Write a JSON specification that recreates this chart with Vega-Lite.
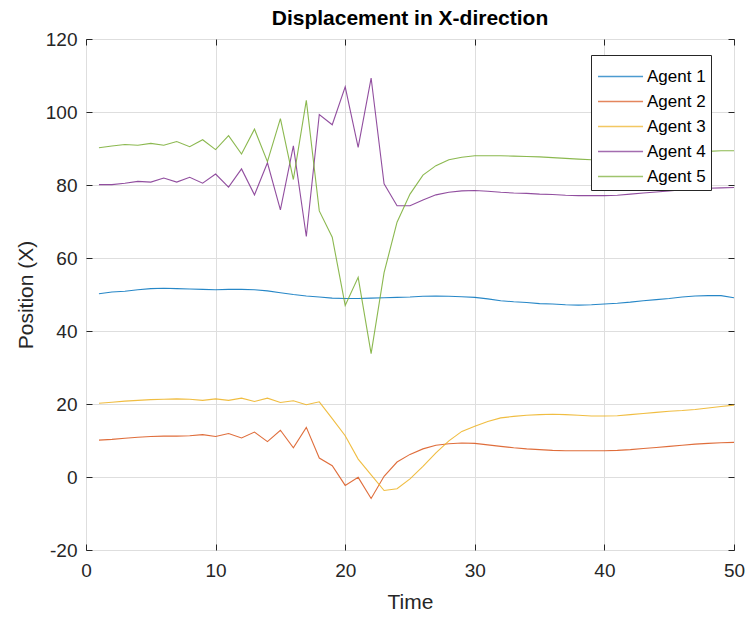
{
  "$schema": "https://vega.github.io/schema/vega-lite/v6.json",
  "width": 648,
  "height": 511,
  "autosize": {"type": "none"},
  "padding": {"left": 86, "top": 39, "right": 16, "bottom": 67},
  "background": "white",
  "title": {"text": "Displacement in X-direction", "fontSize": 21, "fontWeight": "bold", "font": "Liberation Sans", "color": "#000000", "offset": 1, "anchor": "middle"},
  "config": {
    "view": {"stroke": "#262626", "strokeWidth": 1},
    "font": "Liberation Sans",
    "axis": {"domain": false, "labelFlush": false, "gridColor": "#dedede", "gridWidth": 1, "tickColor": "#262626", "tickSize": -6, "labelColor": "#262626", "labelFontSize": 19, "labelFont": "Liberation Sans", "titleFont": "Liberation Sans", "titleFontSize": 21, "titleFontWeight": "normal", "titleColor": "#262626", "labelExpr": "'' + datum.value"}
  },
  "data": {"values": [
    {"t":1,"Agent 1":50.2,"Agent 2":10.1,"Agent 3":20.2,"Agent 4":80.1,"Agent 5":90.2},
    {"t":2,"Agent 1":50.7,"Agent 2":10.3,"Agent 3":20.5,"Agent 4":80.1,"Agent 5":90.7},
    {"t":3,"Agent 1":50.9,"Agent 2":10.6,"Agent 3":20.8,"Agent 4":80.5,"Agent 5":91.1},
    {"t":4,"Agent 1":51.3,"Agent 2":10.9,"Agent 3":21.0,"Agent 4":81.0,"Agent 5":90.9},
    {"t":5,"Agent 1":51.6,"Agent 2":11.1,"Agent 3":21.2,"Agent 4":80.8,"Agent 5":91.4},
    {"t":6,"Agent 1":51.7,"Agent 2":11.2,"Agent 3":21.3,"Agent 4":81.9,"Agent 5":90.9},
    {"t":7,"Agent 1":51.6,"Agent 2":11.2,"Agent 3":21.4,"Agent 4":80.8,"Agent 5":91.9},
    {"t":8,"Agent 1":51.5,"Agent 2":11.3,"Agent 3":21.3,"Agent 4":82.1,"Agent 5":90.5},
    {"t":9,"Agent 1":51.4,"Agent 2":11.6,"Agent 3":21.0,"Agent 4":80.5,"Agent 5":92.4},
    {"t":10,"Agent 1":51.3,"Agent 2":11.1,"Agent 3":21.4,"Agent 4":83.0,"Agent 5":89.7},
    {"t":11,"Agent 1":51.4,"Agent 2":11.9,"Agent 3":21.0,"Agent 4":79.4,"Agent 5":93.5},
    {"t":12,"Agent 1":51.4,"Agent 2":10.7,"Agent 3":21.6,"Agent 4":84.4,"Agent 5":88.5},
    {"t":13,"Agent 1":51.3,"Agent 2":12.3,"Agent 3":20.7,"Agent 4":77.3,"Agent 5":95.3},
    {"t":14,"Agent 1":51.0,"Agent 2":9.7,"Agent 3":21.6,"Agent 4":86.1,"Agent 5":86.4},
    {"t":15,"Agent 1":50.5,"Agent 2":12.8,"Agent 3":20.4,"Agent 4":73.2,"Agent 5":98.2},
    {"t":16,"Agent 1":50.0,"Agent 2":8.0,"Agent 3":20.9,"Agent 4":90.7,"Agent 5":81.5},
    {"t":17,"Agent 1":49.6,"Agent 2":13.6,"Agent 3":19.8,"Agent 4":65.9,"Agent 5":103.2},
    {"t":18,"Agent 1":49.3,"Agent 2":5.2,"Agent 3":20.6,"Agent 4":99.3,"Agent 5":72.9},
    {"t":19,"Agent 1":49.0,"Agent 2":3.1,"Agent 3":16.0,"Agent 4":96.5,"Agent 5":65.7},
    {"t":20,"Agent 1":48.9,"Agent 2":-2.3,"Agent 3":11.3,"Agent 4":106.9,"Agent 5":47.0},
    {"t":21,"Agent 1":48.9,"Agent 2":-0.1,"Agent 3":4.9,"Agent 4":90.3,"Agent 5":54.7},
    {"t":22,"Agent 1":49.0,"Agent 2":-5.9,"Agent 3":0.6,"Agent 4":109.3,"Agent 5":33.8},
    {"t":23,"Agent 1":49.1,"Agent 2":0.2,"Agent 3":-3.7,"Agent 4":80.3,"Agent 5":56.0},
    {"t":24,"Agent 1":49.2,"Agent 2":4.1,"Agent 3":-3.2,"Agent 4":74.3,"Agent 5":69.8},
    {"t":25,"Agent 1":49.3,"Agent 2":6.2,"Agent 3":-0.5,"Agent 4":74.3,"Agent 5":77.5},
    {"t":26,"Agent 1":49.5,"Agent 2":7.7,"Agent 3":2.9,"Agent 4":75.9,"Agent 5":82.7},
    {"t":27,"Agent 1":49.6,"Agent 2":8.7,"Agent 3":6.6,"Agent 4":77.3,"Agent 5":85.3},
    {"t":28,"Agent 1":49.5,"Agent 2":9.1,"Agent 3":9.9,"Agent 4":78.0,"Agent 5":86.9},
    {"t":29,"Agent 1":49.4,"Agent 2":9.3,"Agent 3":12.5,"Agent 4":78.4,"Agent 5":87.6},
    {"t":30,"Agent 1":49.2,"Agent 2":9.2,"Agent 3":13.9,"Agent 4":78.5,"Agent 5":88.0},
    {"t":31,"Agent 1":48.8,"Agent 2":8.8,"Agent 3":15.2,"Agent 4":78.3,"Agent 5":88.0},
    {"t":32,"Agent 1":48.3,"Agent 2":8.4,"Agent 3":16.2,"Agent 4":78.0,"Agent 5":88.0},
    {"t":33,"Agent 1":48.0,"Agent 2":8.0,"Agent 3":16.6,"Agent 4":77.8,"Agent 5":87.9},
    {"t":34,"Agent 1":47.8,"Agent 2":7.7,"Agent 3":16.9,"Agent 4":77.7,"Agent 5":87.8},
    {"t":35,"Agent 1":47.5,"Agent 2":7.5,"Agent 3":17.1,"Agent 4":77.5,"Agent 5":87.7},
    {"t":36,"Agent 1":47.4,"Agent 2":7.3,"Agent 3":17.2,"Agent 4":77.4,"Agent 5":87.5},
    {"t":37,"Agent 1":47.2,"Agent 2":7.2,"Agent 3":17.1,"Agent 4":77.2,"Agent 5":87.3},
    {"t":38,"Agent 1":47.1,"Agent 2":7.2,"Agent 3":16.9,"Agent 4":77.1,"Agent 5":87.1},
    {"t":39,"Agent 1":47.2,"Agent 2":7.2,"Agent 3":16.7,"Agent 4":77.1,"Agent 5":86.9},
    {"t":40,"Agent 1":47.4,"Agent 2":7.2,"Agent 3":16.7,"Agent 4":77.1,"Agent 5":86.8},
    {"t":41,"Agent 1":47.6,"Agent 2":7.3,"Agent 3":16.8,"Agent 4":77.2,"Agent 5":86.8},
    {"t":42,"Agent 1":47.9,"Agent 2":7.5,"Agent 3":17.1,"Agent 4":77.5,"Agent 5":86.9},
    {"t":43,"Agent 1":48.3,"Agent 2":7.8,"Agent 3":17.4,"Agent 4":77.8,"Agent 5":87.2},
    {"t":44,"Agent 1":48.6,"Agent 2":8.1,"Agent 3":17.7,"Agent 4":78.1,"Agent 5":87.6},
    {"t":45,"Agent 1":48.9,"Agent 2":8.4,"Agent 3":18.0,"Agent 4":78.4,"Agent 5":88.0},
    {"t":46,"Agent 1":49.3,"Agent 2":8.7,"Agent 3":18.2,"Agent 4":78.7,"Agent 5":88.4},
    {"t":47,"Agent 1":49.6,"Agent 2":9.0,"Agent 3":18.5,"Agent 4":79.0,"Agent 5":88.8},
    {"t":48,"Agent 1":49.7,"Agent 2":9.2,"Agent 3":18.9,"Agent 4":79.1,"Agent 5":89.2},
    {"t":49,"Agent 1":49.7,"Agent 2":9.4,"Agent 3":19.3,"Agent 4":79.2,"Agent 5":89.4},
    {"t":50,"Agent 1":49.1,"Agent 2":9.5,"Agent 3":19.7,"Agent 4":79.3,"Agent 5":89.4}
  ]},
  "transform": [{"fold": ["Agent 1", "Agent 2", "Agent 3", "Agent 4", "Agent 5"], "as": ["agent", "x"]}],
  "layer": [
    {
      "mark": {"type": "line", "strokeWidth": 1.1, "opacity": 0.85, "clip": true},
      "encoding": {
        "x": {"field": "t", "type": "quantitative", "title": "Time",
          "scale": {"domain": [0, 50], "nice": false},
          "axis": {"orient": "bottom", "values": [0, 10, 20, 30, 40, 50], "labelPadding": 17, "titlePadding": 11}},
        "y": {"field": "x", "type": "quantitative", "title": "Position (X)",
          "scale": {"domain": [-20, 120], "nice": false},
          "axis": {"orient": "left", "values": [-20, 0, 20, 40, 60, 80, 100, 120], "labelPadding": 15, "titlePadding": 9}},
        "color": {"field": "agent", "type": "nominal",
          "scale": {"domain": ["Agent 1", "Agent 2", "Agent 3", "Agent 4", "Agent 5"], "range": ["#0072BD", "#D95319", "#EDB120", "#7E2F8E", "#77AC30"]},
          "legend": {"title": null, "orient": "none", "legendX": 505, "legendY": 16, "symbolType": "M -0.935 0 L 1.97 0", "symbolSize": 961, "symbolStrokeWidth": 1.5, "symbolOpacity": 0.7, "labelFontSize": 17, "labelFont": "Liberation Sans", "labelColor": "#000000", "labelOffset": 18, "strokeColor": "#262626", "fillColor": "#ffffff", "padding": 5, "rowPadding": 0}}
      }
    },
    {
      "mark": {"type": "point", "opacity": 0},
      "encoding": {
        "x": {"field": "t", "type": "quantitative", "scale": {"domain": [0, 50], "nice": false},
          "axis": {"orient": "top", "values": [0, 10, 20, 30, 40, 50], "labels": false, "grid": false, "title": null}},
        "y": {"field": "x", "type": "quantitative", "scale": {"domain": [-20, 120], "nice": false},
          "axis": {"orient": "right", "values": [-20, 0, 20, 40, 60, 80, 100, 120], "labels": false, "grid": false, "title": null}}
      }
    }
  ],
  "resolve": {"scale": {"x": "independent", "y": "independent"}}
}
